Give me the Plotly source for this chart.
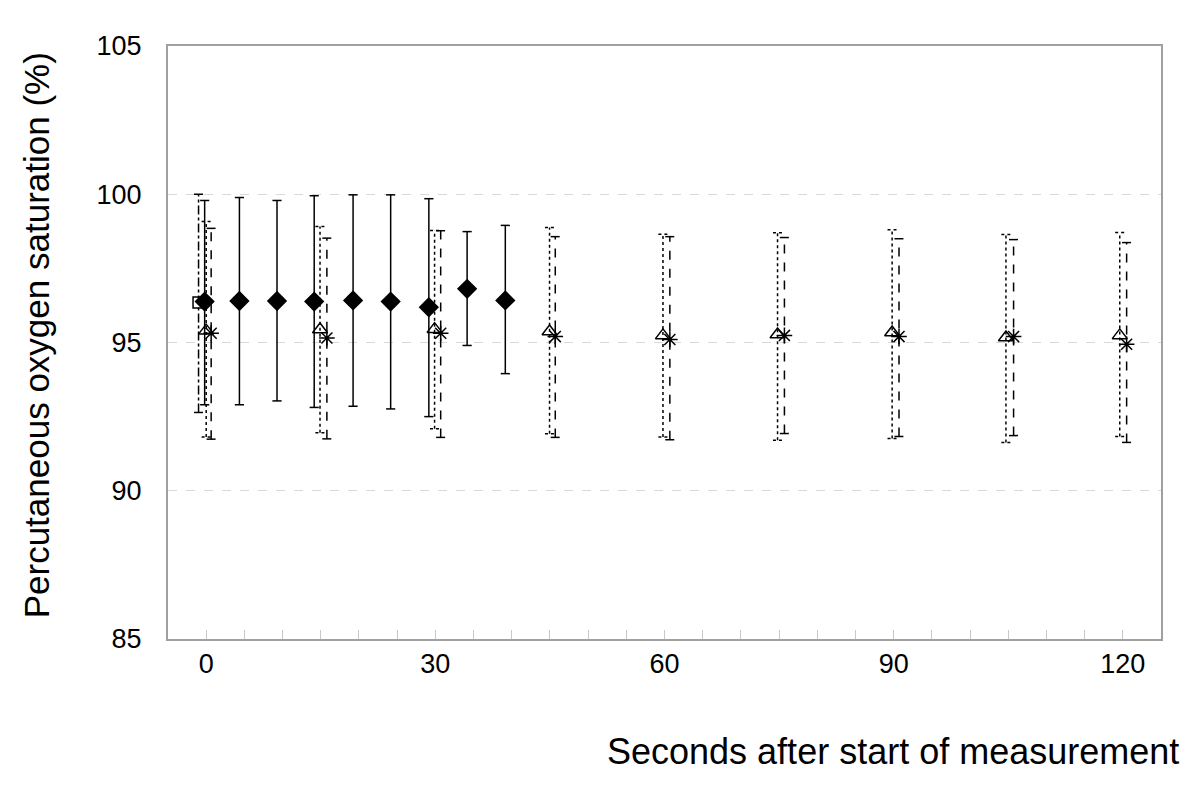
import plotly.graph_objects as go

# ---- data ----
sq_x = [-1.0]
sq_y = [96.35]
sq_hi = [100.0]
sq_lo = [92.64]

dm_x = [-0.2, 4.35, 9.27, 14.14, 19.23, 24.15, 29.15, 34.16, 39.16]
dm_y = [96.38, 96.4, 96.4, 96.38, 96.42, 96.38, 96.19, 96.81, 96.42]
dm_hi = [99.79, 99.89, 99.79, 99.95, 99.98, 99.98, 99.85, 98.74, 98.95]
dm_lo = [92.9, 92.9, 93.03, 92.81, 92.85, 92.76, 92.5, 94.9, 93.95]

tr_x = [0.0, 14.9, 29.9, 44.95, 59.8, 74.8, 89.8, 104.7, 119.6]
tr_y = [95.4, 95.44, 95.45, 95.37, 95.24, 95.27, 95.34, 95.17, 95.24]
tr_hi = [99.08, 98.91, 98.78, 98.88, 98.65, 98.7, 98.8, 98.64, 98.71]
tr_lo = [91.81, 91.96, 92.09, 91.92, 91.81, 91.7, 91.76, 91.63, 91.83]

xs_x = [0.65, 15.8, 30.7, 45.7, 60.7, 75.7, 90.7, 105.7, 120.5]
xs_y = [95.31, 95.15, 95.31, 95.2, 95.1, 95.24, 95.2, 95.2, 94.94]
xs_hi = [98.85, 98.52, 98.77, 98.57, 98.57, 98.54, 98.5, 98.47, 98.37]
xs_lo = [91.74, 91.75, 91.8, 91.8, 91.72, 91.93, 91.83, 91.86, 91.63]

x_tickvals = list(range(0, 121, 5))
x_label_vals = [0, 30, 60, 90, 120]
y_tickvals = [85, 90, 95, 100, 105]

FONT = "Liberation Sans, Arial, sans-serif"
CAP = 0.6


def bar_segments(x, lo, hi, cap=CAP):
    bx, by = [], []
    for xi, l, h in zip(x, lo, hi):
        bx += [xi, xi, None, xi - cap, xi + cap, None, xi - cap, xi + cap, None]
        by += [l, h, None, h, h, None, l, l, None]
    return bx, by


fig = go.Figure()

series = [
    (sq_x, sq_y, sq_lo, sq_hi, "dashdot", "square-open", 11),
    (dm_x, dm_y, dm_lo, dm_hi, "solid", "diamond", 14),
    (tr_x, tr_y, tr_lo, tr_hi, "dot", "triangle-up-open", 13),
    (xs_x, xs_y, xs_lo, xs_hi, "dash", "asterisk-open", 13),
]

for x, y, lo, hi, dash, sym, size in series:
    bx, by = bar_segments(x, lo, hi)
    fig.add_trace(go.Scatter(x=bx, y=by, mode="lines",
                             line=dict(color="black", width=1.5, dash=dash),
                             hoverinfo="skip", showlegend=False))

for x, y, lo, hi, dash, sym, size in series:
    fig.add_trace(go.Scatter(x=x, y=y, mode="markers",
                             marker=dict(symbol=sym, size=size, color="black",
                                         line=dict(color="black", width=1.5)),
                             showlegend=False))

fig.update_layout(
    width=1200, height=790,
    margin=dict(l=160, r=47, t=38, b=159),
    paper_bgcolor="white", plot_bgcolor="white",
    font=dict(family=FONT, color="black", size=27),
    xaxis=dict(range=[-5, 125], tickmode="array", tickvals=x_tickvals,
               ticktext=[str(v) if v in x_label_vals else "" for v in x_tickvals],
               ticks="inside", ticklen=9, tickcolor="#c8c8c8", tickwidth=1,
               showgrid=False, zeroline=False,
               showline=True, linecolor="#a0a0a0", linewidth=2, mirror=True,
               tickfont=dict(size=27), ticklabelstandoff=0),
    yaxis=dict(range=[85, 105], tickmode="array", tickvals=y_tickvals,
               ticks="", showgrid=True, gridcolor="#d9d9d9", griddash="dash",
               gridwidth=1, zeroline=False,
               showline=True, linecolor="#a0a0a0", linewidth=2, mirror=True,
               tickfont=dict(size=27), ticklabelstandoff=19),
    annotations=[
        dict(text="Percutaneous oxygen saturation (%)", xref="paper", yref="paper",
             x=-0.133, y=0.512, xanchor="center", yanchor="middle",
             textangle=-90, showarrow=False, font=dict(size=35, family=FONT)),
        dict(text="Seconds after start of measurement", xref="paper", yref="paper",
             x=1.02, y=-0.189, xanchor="right", yanchor="middle",
             showarrow=False, font=dict(size=36, family=FONT)),
    ],
)

fig.write_html("out.html")
